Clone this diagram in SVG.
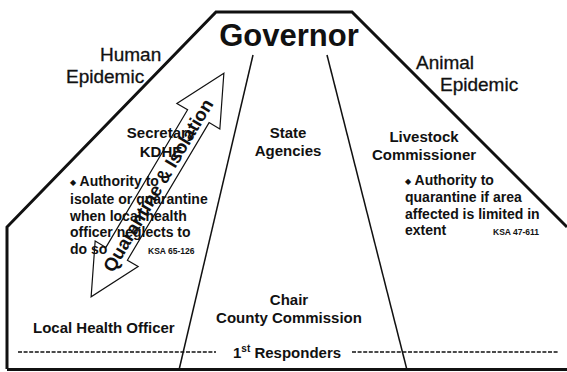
<svg xmlns="http://www.w3.org/2000/svg" width="567" height="372" viewBox="0 0 567 372">
<style>
text{font-family:"Liberation Sans",Arial,sans-serif;fill:#111}
.b{font-weight:bold}
.h{font-size:15px;font-weight:bold}
.body{font-size:14px;font-weight:bold}
.ksa{font-size:8.5px;font-weight:bold}
.side{font-size:19px;stroke:#111;stroke-width:0.3}
.outline{fill:none;stroke:#111;stroke-width:3;stroke-linejoin:miter}
.inner{fill:none;stroke:#111;stroke-width:1.5}
.dash{fill:none;stroke:#111;stroke-width:1.5;stroke-dasharray:4 1.6}
.arrow{fill:none;stroke:#111;stroke-width:1.2}
.dia{font-family:"DejaVu Sans",sans-serif;font-size:8px}
</style>
<rect width="567" height="372" fill="#fff"/>
<g id="connectors">
<path class="outline" d="M7,369 L7,227 L216,12 L352,12 L567,227"/>
<path class="outline" d="M7,369.5 L567,369.5"/>
<path class="inner" d="M253,55 L179,370"/>
<path class="inner" d="M327,55 L407,370"/>
<path class="dash" d="M18,352 L216,352"/>
<path class="dash" d="M352,352 L558,352"/>
</g>
<g id="governor"><text class="b" x="289" y="46" font-size="31" text-anchor="middle">Governor</text></g>
<g id="human-epidemic">
<text class="side" x="100" y="61">Human</text>
<text class="side" x="66" y="83">Epidemic</text>
</g>
<g id="animal-epidemic">
<text class="side" x="416" y="69">Animal</text>
<text class="side" x="440" y="91">Epidemic</text>
</g>
<g id="secretary-kdhe">
<text class="h" x="161" y="138" text-anchor="middle">Secretary</text>
<text class="h" x="161" y="157" text-anchor="middle">KDHE</text>
<text class="body" x="70" y="186"><tspan class="dia" dy="-1">◆</tspan><tspan dy="1"> Authority to</tspan></text>
<text class="body" x="70" y="204">isolate or quarantine</text>
<text class="body" x="70" y="221">when local health</text>
<text class="body" x="70" y="237">officer neglects to</text>
<text class="body" x="70" y="254">do so</text>
<text class="ksa" x="148" y="254">KSA 65-126</text>
</g>
<g id="state-agencies">
<text class="h" x="288" y="138" text-anchor="middle">State</text>
<text class="h" x="288" y="156" text-anchor="middle">Agencies</text>
</g>
<g id="livestock-commissioner">
<text class="h" x="424" y="142" text-anchor="middle">Livestock</text>
<text class="h" x="424" y="160" text-anchor="middle">Commissioner</text>
<text class="body" x="405" y="185"><tspan class="dia" dy="-1">◆</tspan><tspan dy="1"> Authority to</tspan></text>
<text class="body" x="405" y="202">quarantine if area</text>
<text class="body" x="405" y="218.5">affected is limited in</text>
<text class="body" x="405" y="235">extent</text>
<text class="ksa" x="493" y="235">KSA 47-611</text>
</g>
<g id="quarantine-isolation" transform="translate(157.5,185) rotate(-59.3)">
<polygon class="arrow" points="130,0 80,-25 80,-12.5 -80,-12.5 -80,-25 -130,0 -80,25 -80,12.5 80,12.5 80,25"/>
<text x="0" y="7" font-size="18.5" font-weight="bold" text-anchor="middle">Quarantine &amp; Isolation</text>
</g>
<g id="chair-county-commission">
<text class="h" x="289" y="305" text-anchor="middle">Chair</text>
<text class="h" x="289" y="323" text-anchor="middle">County Commission</text>
</g>
<g id="local-health-officer"><text class="h" x="33" y="333">Local Health Officer</text></g>
<g id="first-responders"><text class="h" x="233" y="358" font-size="16">1<tspan font-size="10" dy="-6">st</tspan><tspan dy="6"> Responders</tspan></text></g>
</svg>
